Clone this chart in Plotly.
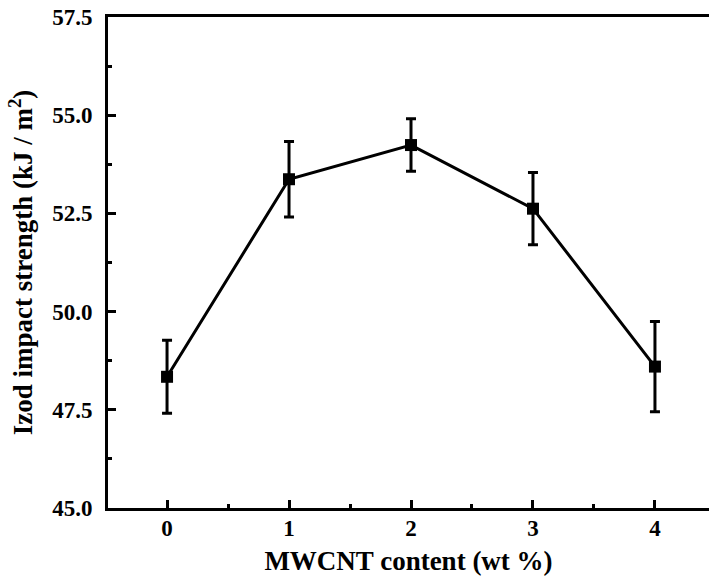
import plotly.graph_objects as go

mwcnt = [0, 1, 2, 3, 4]
impact = [48.34, 53.37, 54.24, 52.62, 48.60]
err = [0.93, 0.96, 0.67, 0.92, 1.15]
y_ticks = [45.0, 47.5, 50.0, 52.5, 55.0, 57.5]
x_ticks = [0, 1, 2, 3, 4]

FONT = "'Liberation Serif', 'Times New Roman', Times, serif"

fig = go.Figure()
fig.add_trace(go.Scatter(
    x=mwcnt, y=impact,
    mode="lines+markers",
    line=dict(color="black", width=3),
    marker=dict(symbol="square", size=12, color="black"),
    error_y=dict(type="data", array=err, visible=True, color="black", thickness=3, width=5),
    showlegend=False,
))

fig.update_layout(
    width=709, height=585,
    margin=dict(l=108, r=0, t=17, b=77),
    plot_bgcolor="white", paper_bgcolor="white",
    font=dict(family=FONT, color="black"),
)
fig.update_xaxes(
    range=[-0.484, 4.443], automargin=False,
    tickvals=x_ticks, ticktext=[f"<b>{v}</b>" for v in x_ticks],
    showline=True, linecolor="black", linewidth=3, mirror=True,
    ticks="inside", ticklen=8, tickwidth=2.5, tickcolor="black",
    minor=dict(dtick=0.5, tick0=0, ticks="inside", ticklen=4, tickwidth=2.5, tickcolor="black"),
    showgrid=False, zeroline=False, ticklabelstandoff=-3,
    tickfont=dict(family=FONT, size=23, color="black"),
    title=dict(text="<b>MWCNT content (wt %)</b>", font=dict(family=FONT, size=27, color="black"), standoff=12),
)
fig.update_yaxes(
    range=[45, 57.5], automargin=False,
    tickvals=y_ticks, ticktext=[f"<b>{v:.1f}</b>" for v in y_ticks],
    showline=True, linecolor="black", linewidth=3, mirror=False,
    ticks="inside", ticklen=8, tickwidth=2.5, tickcolor="black",
    minor=dict(dtick=1.25, tick0=45, ticks="inside", ticklen=4, tickwidth=2.5, tickcolor="black"),
    showgrid=False, zeroline=False, ticklabelstandoff=8,
    tickfont=dict(family=FONT, size=23, color="black"),
    title=dict(text="<b>Izod impact strength (kJ / m<sup>2</sup>)</b>", font=dict(family=FONT, size=27, color="black"), standoff=12),
)

fig.write_html(
    "out.html",
    config={"displayModeBar": False},
    post_script="document.body.style.margin='0';document.body.style.overflow='hidden';",
)
